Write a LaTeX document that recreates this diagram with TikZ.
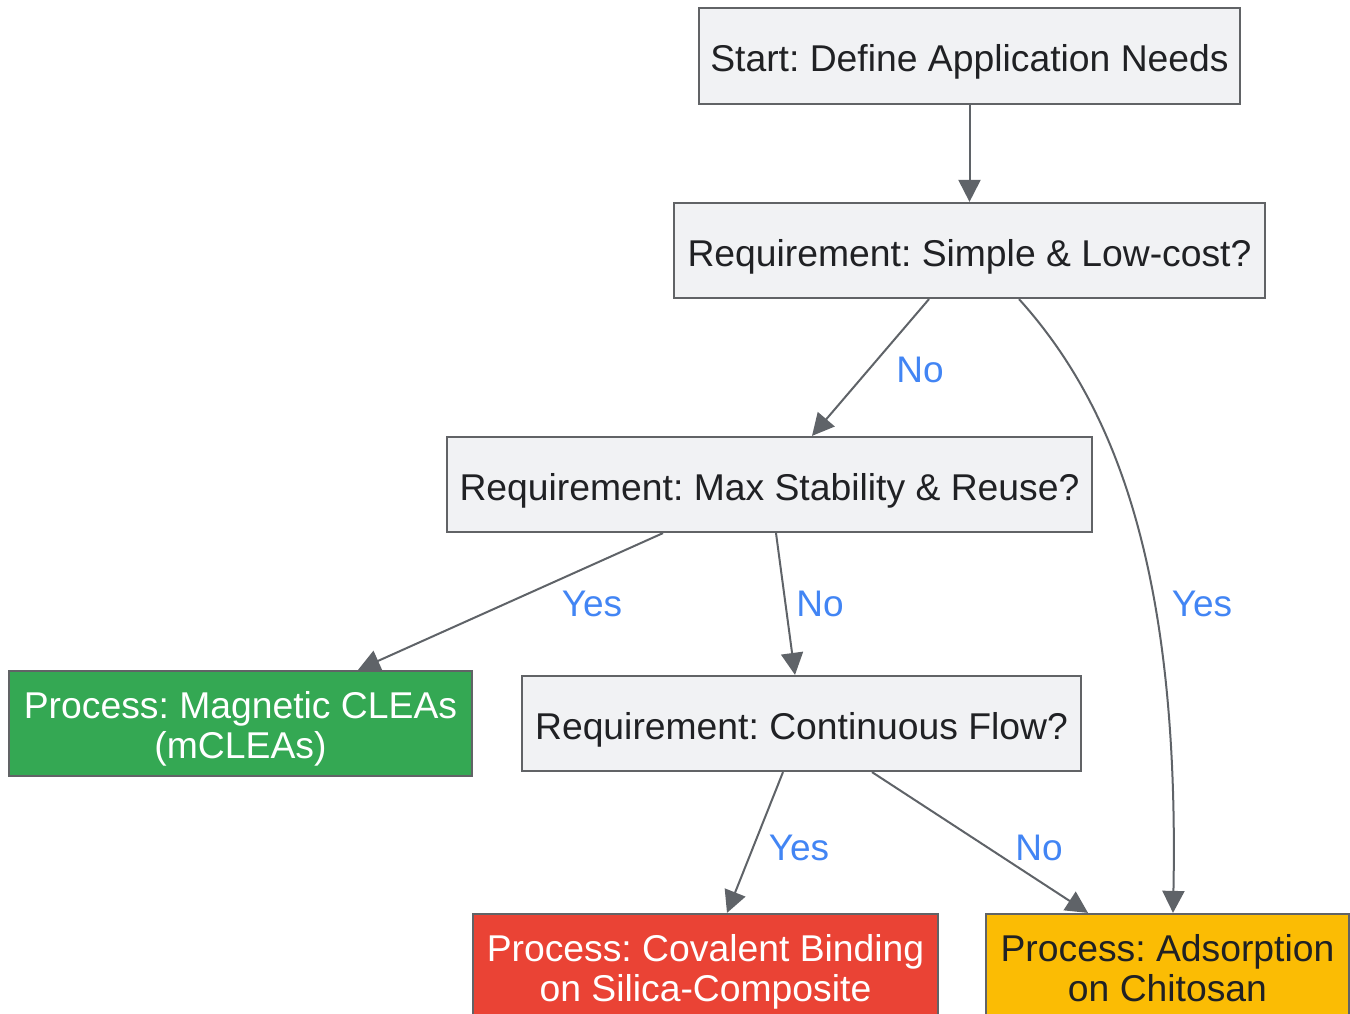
\documentclass[tikz,border=0pt]{standalone}
\usepackage{fontspec}
\setmainfont{Liberation Sans}
\usetikzlibrary{arrows.meta}
\definecolor{boxfill}{HTML}{F1F2F4}
\definecolor{boxline}{HTML}{616366}
\definecolor{edgecol}{HTML}{5F6368}
\definecolor{lblcol}{HTML}{4285F4}
\definecolor{txtcol}{HTML}{202124}
\definecolor{gfill}{HTML}{34A853}
\definecolor{rfill}{HTML}{EA4335}
\definecolor{yfill}{HTML}{FBBC04}
\newcommand{\topstrut}{\rule{0pt}{37pt}}
\newcommand{\botstrut}{\rule[-8pt]{0pt}{8pt}}
\tikzset{
  box/.style={draw=boxline, line width=2.2pt, fill=boxfill, rectangle, inner sep=0pt,
    text=txtcol, font=\fontsize{37.3}{40}\selectfont\frenchspacing, align=center},
  oneline/.style={text height=31.5pt, text depth=0pt},
  edge/.style={draw=edgecol, line width=2pt, -{Triangle[length=22pt,width=22pt]}},
  lbl/.style={text=lblcol, font=\fontsize{37}{40}\selectfont, inner sep=0pt}
}
\begin{document}
\begin{tikzpicture}[x=1pt,y=-1pt]
\useasboundingbox (0,0) rectangle (1350,1014);
\clip (0,0) rectangle (1350,1014);
\node[box, oneline, minimum width=541pt, minimum height=96pt] (start) at (969.5,56) {Start: Define Application Needs};
\node[box, oneline, minimum width=591pt, minimum height=95pt] (simple) at (969.5,250.5) {Requirement: Simple \& Low-cost?};
\node[box, oneline, minimum width=645pt, minimum height=95pt] (max) at (769.5,484.5) {Requirement: Max Stability \& Reuse?};
\node[box, fill=gfill, text=white, minimum width=463pt, minimum height=105pt] (mag) at (240.5,723.5) {\topstrut Process: Magnetic CLEAs\\(mCLEAs)\botstrut};
\node[box, oneline, minimum width=559pt, minimum height=95pt] (cont) at (801.5,723.5) {Requirement: Continuous Flow?};
\node[box, fill=rfill, text=white, minimum width=465pt, minimum height=105pt] (cov) at (705.5,966.5) {\topstrut Process: Covalent Binding\\on Silica-Composite\botstrut};
\node[box, fill=yfill, minimum width=363pt, minimum height=105pt] (ads) at (1167.5,966.5) {\topstrut Process: Adsorption\\on Chitosan\botstrut};

\draw[edge] (start.south) -- (simple.north);
\draw[edge] ([xshift=-40.5pt]simple.south) -- ([xshift=42.5pt]max.north);
\draw[edge] ([xshift=49.5pt]simple.south) .. controls (1110,400) and (1180,560) .. ([xshift=5.5pt]ads.north);
\draw[edge] ([xshift=-106.5pt]max.south) -- ([xshift=117.5pt]mag.north);
\draw[edge] ([xshift=6.5pt]max.south) -- ([xshift=-6.5pt]cont.north);
\draw[edge] ([xshift=-18.5pt]cont.south) -- ([xshift=21.5pt]cov.north);
\draw[edge] ([xshift=70.5pt]cont.south) -- ([xshift=-79.5pt]ads.north);

\node[lbl] (l1) at (920,370) {No};
\node[lbl] (l2) at (1202,604) {Yes};
\node[lbl] (l3) at (592,604) {Yes};
\node[lbl] (l4) at (820,604) {No};
\node[lbl] (l5) at (799,848) {Yes};
\node[lbl] (l6) at (1039,848) {No};
\end{tikzpicture}
\end{document}
